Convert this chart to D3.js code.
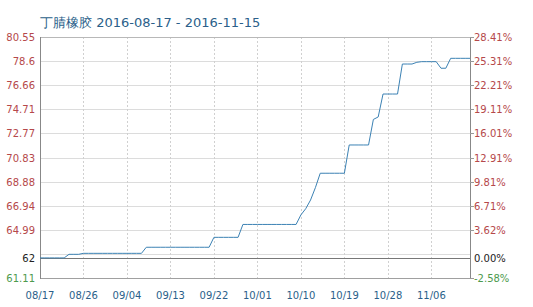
<!DOCTYPE html>
<html><head><meta charset="utf-8">
<script src="https://cdn.jsdelivr.net/npm/d3@7"></script>
<style>html,body{margin:0;padding:0;background:#fff;}</style>
</head><body>
<svg id="c" width="533" height="307"></svg>
<script>
const title = "丁腈橡胶 2016-08-17 - 2016-11-15";
const startDate = "2016-08-17";
const values = [
  62.73,62.73,62.73,62.73,62.73,62.73,
  63.02,63.02,63.02,
  63.10,63.10,63.10,63.10,63.10,63.10,63.10,63.10,63.10,63.10,63.10,63.10,63.10,
  63.59,63.59,63.59,63.59,63.59,63.59,63.59,63.59,63.59,63.59,63.59,63.59,63.59,63.59,
  64.39,64.39,64.39,64.39,64.39,64.39,
  65.43,65.43,65.43,65.43,65.43,65.43,65.43,65.43,65.43,65.43,65.43,65.43,
  66.2,66.7,67.4,68.4,
  69.56,69.56,69.56,69.56,69.56,69.56,
  71.84,71.84,71.84,71.84,71.84,
  73.9,74.1,
  75.95,75.95,75.95,75.95,
  78.37,78.37,78.37,
  78.51,78.56,78.56,78.56,78.56,
  78.03,78.03,
  78.83,78.83,78.83,78.83,78.83
];
const baseValue = 62.73;
const yMin = 61.11, yMax = 80.55;
const leftTickValues = [61.11,63.054,64.998,66.942,68.886,70.83,72.774,74.718,76.662,78.606,80.55];
const leftTickLabels = ["61.11","","64.99","66.94","68.88","70.83","72.77","74.71","76.66","78.6","80.55"];
const rightTickLabels = ["-2.58%","","3.62%","6.71%","9.81%","12.91%","16.01%","19.11%","22.21%","25.31%","28.41%"];
const baseLeftLabel = "62", baseRightLabel = "0.00%";
const xTickLabels = ["08/17","08/26","09/04","09/13","09/22","10/01","10/10","10/19","10/28","11/06"];

const svg = d3.select("#c");
const L = 40, R = 470, T = 37, B = 278;
const parse = d3.timeParse("%Y-%m-%d");
const t0 = parse(startDate);
const data = values.map((v,i)=>({d:d3.timeDay.offset(t0,i), v}));
const x = d3.scaleTime().domain(d3.extent(data,d=>d.d)).range([L,R]);
const y = d3.scaleLinear().domain([yMin,yMax]).range([B,T]);
const xTicks = xTickLabels.map(s=>parse("2016-"+s.replace("/","-")));

const red = "#b5484a", green = "#4d9a4d", blue = "#2b5f8a";
const font = "DejaVu Sans, sans-serif";

// horizontal grid
svg.append("g").selectAll("line").data(leftTickValues).join("line")
  .attr("x1",L).attr("x2",R).attr("y1",d=>Math.round(y(d))+0.5).attr("y2",d=>Math.round(y(d))+0.5)
  .attr("stroke","#dcdcdc").attr("stroke-width",1);
// vertical grid (dashed)
svg.append("g").selectAll("line").data(xTicks).join("line")
  .attr("x1",d=>Math.round(x(d))+0.5).attr("x2",d=>Math.round(x(d))+0.5).attr("y1",T).attr("y2",B)
  .attr("stroke","#d0d0d0").attr("stroke-dasharray","2,2");
// border
svg.append("line").attr("x1",L).attr("x2",R).attr("y1",T+0.5).attr("y2",T+0.5).attr("stroke","#b8b8b8");
svg.append("line").attr("x1",L).attr("x2",R).attr("y1",B+0.5).attr("y2",B+0.5).attr("stroke","#a0a0a0");
svg.append("line").attr("x1",L+0.5).attr("x2",L+0.5).attr("y1",T).attr("y2",B+1).attr("stroke","#888");
svg.append("line").attr("x1",R+0.5).attr("x2",R+0.5).attr("y1",T).attr("y2",B+1).attr("stroke","#888");
// base line
svg.append("line").attr("x1",L).attr("x2",R).attr("y1",Math.round(y(baseValue))+0.5).attr("y2",Math.round(y(baseValue))+0.5)
  .attr("stroke","#777");

// right tick marks
svg.append("g").selectAll("line").data(leftTickValues.filter((d,i)=>rightTickLabels[i]!=="")).join("line")
  .attr("x1",R).attr("x2",R+4).attr("y1",d=>Math.round(y(d))+0.5).attr("y2",d=>Math.round(y(d))+0.5).attr("stroke","#999");

// line
svg.append("path").datum(data)
  .attr("d", d3.line().x(d=>x(d.d)).y(d=>y(d.v)))
  .attr("fill","none").attr("stroke","#3c82b4").attr("stroke-width",1);

// left labels
const lg = svg.append("g").attr("font-family",font).attr("font-size",10).attr("text-anchor","end");
leftTickValues.forEach((v,i)=>{
  if(!leftTickLabels[i]) return;
  lg.append("text").attr("x",35).attr("y",y(v)+4).attr("fill", i===0?green:red).text(leftTickLabels[i]);
});
lg.append("text").attr("x",35).attr("y",y(baseValue)+4).attr("fill","#222").text(baseLeftLabel);
// right labels
const rg = svg.append("g").attr("font-family",font).attr("font-size",10).attr("text-anchor","start");
leftTickValues.forEach((v,i)=>{
  if(!rightTickLabels[i]) return;
  rg.append("text").attr("x",474).attr("y",y(v)+4).attr("fill", i===0?green:red).text(rightTickLabels[i]);
});
rg.append("text").attr("x",474).attr("y",y(baseValue)+4).attr("fill","#222").text(baseRightLabel);

// x labels
svg.append("g").attr("font-family",font).attr("font-size",10).attr("text-anchor","middle")
  .selectAll("text").data(xTicks).join("text")
  .attr("x",d=>x(d)).attr("y",299).attr("fill",blue).text((d,i)=>xTickLabels[i]);

// title
svg.append("text").attr("x",40).attr("y",27).attr("font-family",font).attr("font-size",13)
  .attr("fill",blue).text(title);
</script>
</body></html>
